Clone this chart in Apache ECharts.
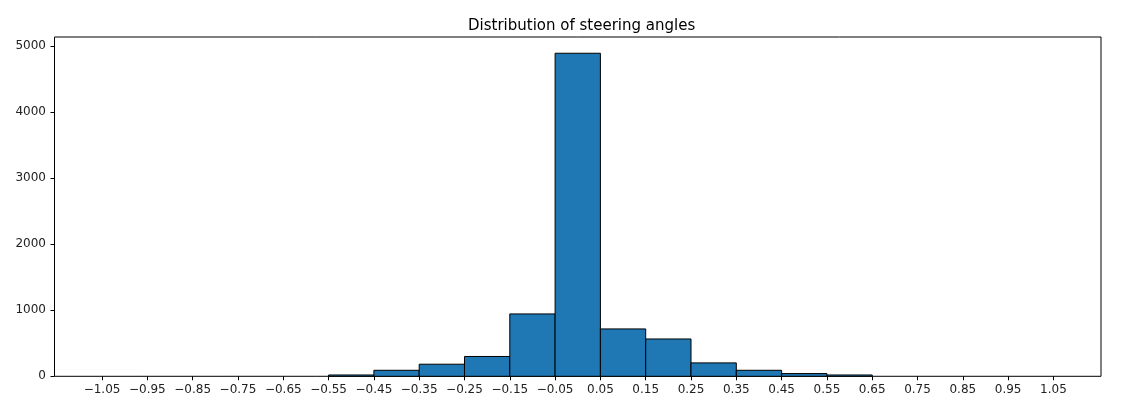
<!DOCTYPE html>
<html>
<head>
<meta charset="utf-8">
<script src="https://cdn.jsdelivr.net/npm/echarts@6/dist/echarts.min.js"></script>
<style>
  html, body { margin: 0; padding: 0; background: #fff; }
  #chart { width: 1127px; height: 414px; }
</style>
</head>
<body>
<div id="chart"></div>
<script>
// histogram bins (left edges) and counts
var binStarts = [-1.05, -0.95, -0.85, -0.75, -0.65, -0.55, -0.45, -0.35, -0.25, -0.15, -0.05,
                 0.05, 0.15, 0.25, 0.35, 0.45, 0.55, 0.65, 0.75, 0.85, 0.95];
var binWidth = 0.1;
var counts = [0, 0, 0, 0, 0, 20, 91, 183, 300, 944, 4890,
              717, 565, 203, 91, 41, 20, 0, 0, 0, 0];
var xTicks = [-1.05, -0.95, -0.85, -0.75, -0.65, -0.55, -0.45, -0.35, -0.25, -0.15, -0.05,
              0.05, 0.15, 0.25, 0.35, 0.45, 0.55, 0.65, 0.75, 0.85, 0.95, 1.05];
var yTicks = [0, 1000, 2000, 3000, 4000, 5000];

var data = [];
for (var i = 0; i < binStarts.length; i++) {
  data.push([binStarts[i], binStarts[i] + binWidth, counts[i]]);
}

var myChart = echarts.init(document.getElementById("chart"));
var font = "DejaVu Sans";

var option = {
  animation: false,
  title: {
    text: "Distribution of steering angles",
    left: 463,
    top: 14,
    textStyle: { fontFamily: font, fontSize: 15, fontWeight: "normal", color: "#000" }
  },
  grid: {
    left: 54.5, right: 26, top: 37, bottom: 37.7,
    show: true, borderColor: "#000", borderWidth: 1, backgroundColor: "transparent"
  },
  xAxis: {
    type: "value",
    min: -1.155,
    max: 1.155,
    splitLine: { show: false },
    axisLine: { show: false, onZero: false },
    axisTick: { show: true, inside: false, length: 4, customValues: xTicks,
      lineStyle: { color: "#000" } },
    axisLabel: {
      customValues: xTicks,
      margin: 8,
      fontFamily: font, fontSize: 12, color: "#222",
      formatter: function (v) { return v.toFixed(2).replace("-", "\u2212"); }
    }
  },
  yAxis: {
    type: "value",
    min: 0,
    max: 5136,
    splitLine: { show: false },
    axisLine: { show: false, onZero: false },
    axisTick: { show: true, inside: false, length: 4, customValues: yTicks,
      lineStyle: { color: "#000" } },
    axisLabel: {
      customValues: yTicks,
      margin: 8.5,
      fontFamily: font, fontSize: 12, color: "#222",
      formatter: function (v) { return String(v); }
    }
  },
  series: [{
    type: "custom",
    name: "counts",
    data: data,
    encode: { x: [0, 1], y: 2 },
    renderItem: function (params, api) {
      if (api.value(2) <= 0) return null;
      var p0 = api.coord([api.value(0), api.value(2)]);
      var p1 = api.coord([api.value(1), 0]);
      return {
        type: "rect",
        shape: { x: p0[0], y: p0[1], width: p1[0] - p0[0], height: p1[1] - p0[1] },
        style: { fill: "#1f77b4", stroke: "#000", lineWidth: 1 }
      };
    }
  }]
};
myChart.setOption(option);
</script>
</body>
</html>
